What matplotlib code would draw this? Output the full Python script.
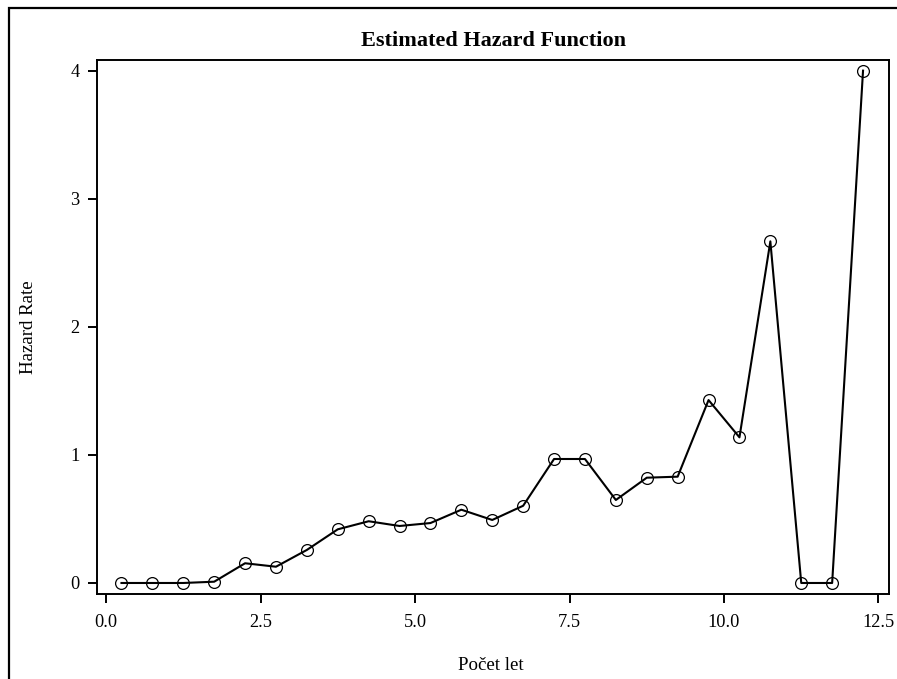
import matplotlib.pyplot as plt
from matplotlib.patches import Rectangle

# Life-table hazard estimates at interval midpoints
years = [0.25, 0.75, 1.25, 1.75, 2.25, 2.75, 3.25, 3.75, 4.25, 4.75, 5.25,
         5.75, 6.25, 6.75, 7.25, 7.75, 8.25, 8.75, 9.25, 9.75, 10.25, 10.75,
         11.25, 11.75, 12.25]
hazard = [0.0, 0.0, 0.0, 0.01, 0.154, 0.127, 0.258, 0.419, 0.482, 0.445, 0.468,
          0.572, 0.492, 0.603, 0.968, 0.968, 0.648, 0.822, 0.830, 1.428, 1.137, 2.667,
          0.0, 0.0, 4.0]
x_ticks = [0.0, 2.5, 5.0, 7.5, 10.0, 12.5]
x_tick_labels = ['0.0', '2.5', '5.0', '7.5', '10.0', '12.5']
y_ticks = [0, 1, 2, 3, 4]

plt.rcParams['font.family'] = ['Liberation Serif', 'DejaVu Serif']

fig = plt.figure(figsize=(8.97, 6.79), dpi=100)
ax = fig.add_axes([97 / 897, 1 - 594 / 679, (889 - 97) / 897, (594 - 60) / 679])

ax.plot(years, hazard, color='black', lw=1.5, marker='o', markersize=8.5,
        markerfacecolor='none', markeredgecolor='black', markeredgewidth=0.9)

ax.set_xlim(-0.146, 12.67)
ax.set_ylim(-0.086, 4.083)
ax.set_xticks(x_ticks)
ax.set_xticklabels(x_tick_labels)
ax.set_yticks(y_ticks)
ax.tick_params(direction='out', length=6.5, width=1.4, labelsize=13.2)
ax.tick_params(axis='x', pad=8)
ax.tick_params(axis='y', pad=6)
for s in ax.spines.values():
    s.set_linewidth(1.4)

ax.set_title('Estimated Hazard Function', fontsize=16, fontweight='bold', pad=10)
ax.set_xlabel('Počet let', fontsize=13.6)
ax.set_ylabel('Hazard Rate', fontsize=13.6)
ax.xaxis.set_label_coords((491 - 97) / (889 - 97), -(657 - 594) / (594 - 60))
ax.yaxis.set_label_coords(-(97 - 37) / (889 - 97), 0.5)

# outer frame around the graph area
fig.patches.append(Rectangle((9 / 897, -0.05), 1.2, 1 - 8 / 679 + 0.05,
                             transform=fig.transFigure, fill=False,
                             edgecolor='black', linewidth=1.6))

fig.savefig('out.png', dpi=100)
